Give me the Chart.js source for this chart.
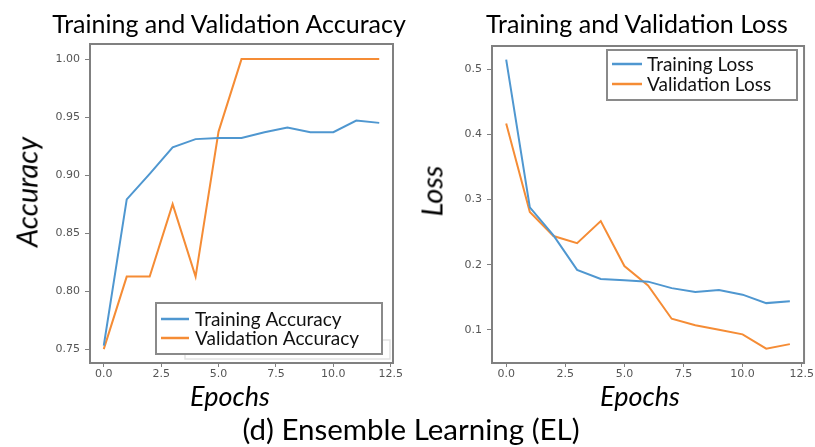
<!DOCTYPE html>
<html>
<head>
<meta charset="utf-8">
<script src="https://cdn.jsdelivr.net/npm/chart.js@4.4.0/dist/chart.umd.min.js"></script>
<style>
  html, body { margin: 0; padding: 0; background: #fff; }
  #page { position: relative; width: 815px; height: 447px; overflow: hidden; font-family: Lato, "Open Sans", sans-serif; color: #000; }
  canvas { position: absolute; top: 0; }
  .txt { position: absolute; white-space: nowrap; line-height: 1; }
  .title { font-size: 25px; top: 11px; transform: translateX(-50%); }
  .ylab { font-size: 29px; font-style: italic; transform: translate(-50%, -50%) rotate(-90deg); }
  .xlab { font-size: 27px; font-style: italic; top: 382px; transform: translateX(-50%); }
  .caption { font-size: 29.5px; top: 414px; left: 411px; transform: translateX(-50%); }
</style>
</head>
<body>
<div id="page">
  <canvas id="graficoAcc" width="410" height="400" style="left:0"></canvas>
  <canvas id="graficoLoss" width="405" height="400" style="left:410px"></canvas>
  <div class="txt title" style="left:229px">Training and Validation Accuracy</div>
  <div class="txt title" style="left:637px">Training and Validation Loss</div>
  <div class="txt ylab" style="left:26px; top:192px">Accuracy</div>
  <div class="txt ylab" style="left:431px; top:191px">Loss</div>
  <div class="txt xlab" style="left:230px">Epochs</div>
  <div class="txt xlab" style="left:640px">Epochs</div>
  <div class="txt caption">(d) Ensemble Learning (EL)</div>
</div>
<script>
// Dados
const epochs = [0, 1, 2, 3, 4, 5, 6, 7, 8, 9, 10, 11, 12];
const trainAcc = [0.753, 0.879, 0.901, 0.924, 0.931, 0.932, 0.932, 0.937, 0.941, 0.937, 0.937, 0.947, 0.945];
const valAcc = [0.750, 0.8125, 0.8125, 0.875, 0.8125, 0.9375, 1.0, 1.0, 1.0, 1.0, 1.0, 1.0, 1.0];
const trainLoss = [0.515, 0.288, 0.245, 0.192, 0.178, 0.176, 0.174, 0.164, 0.158, 0.161, 0.154, 0.141, 0.144];
const valLoss = [0.417, 0.281, 0.244, 0.233, 0.267, 0.198, 0.168, 0.117, 0.107, 0.100, 0.093, 0.071, 0.078];
const xTicks = ['0.0', '2.5', '5.0', '7.5', '10.0', '12.5'];

const corAzul = '#4f97d0';
const corLaranja = '#f58c35';

function pares(valores) {
  return epochs.map((e, i) => ({ x: e, y: valores[i] }));
}

// Moldura dos eixos e legenda dentro da área do gráfico
const molduraLegenda = {
  id: 'molduraLegenda',
  afterDraw(chart, args, opts) {
    const ctx = chart.ctx, a = chart.chartArea;
    ctx.save();
    ctx.strokeStyle = '#808080';
    ctx.lineWidth = 2;
    ctx.strokeRect(a.left, a.top, a.right - a.left, a.bottom - a.top);

    if (opts.fantasma) {
      const f = opts.fantasma;
      ctx.strokeStyle = '#e2e2e2';
      ctx.lineWidth = 1.5;
      ctx.strokeRect(f.x, f.y, f.w, f.h);
    }

    const b = opts.caixa;
    ctx.fillStyle = '#fff';
    ctx.fillRect(b.x, b.y, b.w, b.h);
    ctx.strokeStyle = '#8a8a8a';
    ctx.lineWidth = 2;
    ctx.strokeRect(b.x, b.y, b.w, b.h);

    ctx.font = '19px Lato, "Open Sans", sans-serif';
    ctx.textBaseline = 'middle';
    chart.data.datasets.forEach((ds, i) => {
      const y = opts.linhas[i];
      ctx.strokeStyle = ds.borderColor;
      ctx.lineWidth = 2.5;
      ctx.beginPath();
      ctx.moveTo(opts.x1, y);
      ctx.lineTo(opts.x2, y);
      ctx.stroke();
      ctx.fillStyle = '#111';
      ctx.fillText(ds.label, opts.xTexto, y + 1);
    });
    ctx.restore();
  }
};

function eixos(yMin, yMax, passo, casas, larguraY) {
  return {
    x: {
      type: 'linear',
      min: -0.6,
      max: 12.6,
      afterFit(scale) { scale.height = 20; },
      grid: { display: true, drawOnChartArea: false, drawTicks: true, tickLength: 4, color: '#808080' },
      border: { display: false },
      ticks: {
        stepSize: 2.5,
        includeBounds: false,
        maxRotation: 0,
        padding: 1,
        color: '#555',
        font: { family: 'DejaVu Sans', size: 11 },
        callback: function(v) { return xTicks[Math.round(v / 2.5)]; }
      }
    },
    y: {
      min: yMin,
      max: yMax,
      afterFit(scale) { scale.width = larguraY; },
      grid: { display: true, drawOnChartArea: false, drawTicks: true, tickLength: 5, color: '#808080' },
      border: { display: false },
      ticks: {
        stepSize: passo,
        includeBounds: false,
        padding: 5,
        color: '#555',
        font: { family: 'DejaVu Sans', size: 11 },
        callback: function(v) { return Number(v).toFixed(casas); }
      }
    }
  };
}

function serie(rotulo, valores, cor) {
  return {
    label: rotulo,
    data: pares(valores),
    borderColor: cor,
    backgroundColor: cor,
    borderWidth: 2,
    pointRadius: 0,
    tension: 0,
    fill: false
  };
}

// Gráfico de Acurácia
var ctxAcc = document.getElementById('graficoAcc').getContext('2d');
var chartAcc = new Chart(ctxAcc, {
  type: 'line',
  data: {
    datasets: [
      serie('Training Accuracy', trainAcc, corAzul),
      serie('Validation Accuracy', valAcc, corLaranja)
    ]
  },
  options: {
    responsive: false,
    animation: { duration: 0 },
    layout: { padding: { top: 44, right: 17, bottom: 17, left: 0 } },
    scales: eixos(0.738, 1.013, 0.05, 2, 90),
    plugins: {
      legend: { display: false },
      tooltip: { enabled: false },
      molduraLegenda: {
        caixa: { x: 156, y: 303, w: 226, h: 51 },
        fantasma: { x: 185, y: 340, w: 205, h: 19 },
        linhas: [319, 338],
        x1: 161, x2: 189, xTexto: 195
      }
    }
  },
  plugins: [molduraLegenda]
});

// Gráfico de Perda
var ctxLoss = document.getElementById('graficoLoss').getContext('2d');
var chartLoss = new Chart(ctxLoss, {
  type: 'line',
  data: {
    datasets: [
      serie('Training Loss', trainLoss, corAzul),
      serie('Validation Loss', valLoss, corLaranja)
    ]
  },
  options: {
    responsive: false,
    animation: { duration: 0 },
    layout: { padding: { top: 46, right: 10, bottom: 17, left: 0 } },
    scales: eixos(0.049, 0.536, 0.1, 1, 82),
    plugins: {
      legend: { display: false },
      tooltip: { enabled: false },
      molduraLegenda: {
        caixa: { x: 197, y: 50, w: 190, h: 50 },
        linhas: [64, 84],
        x1: 202, x2: 232, xTexto: 237
      }
    }
  },
  plugins: [molduraLegenda]
});
</script>
</body>
</html>
